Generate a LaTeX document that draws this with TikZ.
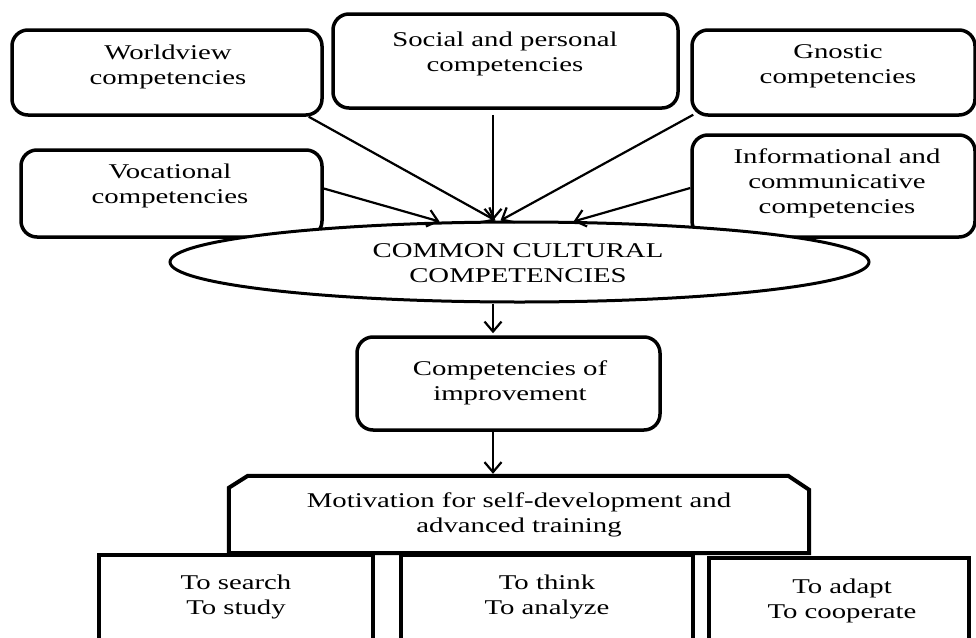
\documentclass[tikz,border=0pt]{standalone}
\usepackage{fontspec}
\setmainfont{Liberation Serif}[FakeStretch=1.37]
\usetikzlibrary{arrows.meta,shapes.geometric}
\begin{document}
\begin{tikzpicture}[x=1pt,y=-1pt,
  font=\fontsize{21}{25}\selectfont,
  card/.style={draw,line width=3.5pt,rounded corners=16pt,inner sep=0pt},
  plain/.style={draw,line width=4pt,inner sep=0pt},
  caption/.style={align=center,inner sep=0pt,anchor=base},
  arr/.style={line width=2.2pt,-{Straight Barb[length=10pt,width=17pt]}}]
\useasboundingbox (0,0) rectangle (976,637);
\clip (0,0) rectangle (976,637);

% upper row of competency boxes
\node[card,minimum width=310pt,minimum height=85pt] (ww)  at (167,72.5) {};
\node[card,minimum width=345pt,minimum height=94pt] (soc) at (505.5,61) {};
\node[card,minimum width=283pt,minimum height=85pt] (gno) at (833.5,72.5) {};
\node[card,minimum width=301pt,minimum height=87pt] (voc) at (171.5,193.5) {};
\node[card,minimum width=283pt,minimum height=102pt] (inf) at (833.5,186) {};

% central ellipse, drawn over the lower corners of the side boxes
\node[ellipse,draw,fill=white,line width=3pt,inner sep=0pt,
      minimum width=699pt,minimum height=80pt] (ell) at (519.5,262) {};

\node[card,minimum width=303pt,minimum height=93pt] (comp) at (508.5,383.5) {};

% motivation box with chamfered upper corners
\node[inner sep=0pt,minimum width=580pt,minimum height=77pt] (mot) at (519,514.5) {};
\draw[line width=4pt,line join=miter] (mot.south west) -- ([yshift=-12pt]mot.north west)
  -- ([xshift=19pt]mot.north west) -- ([xshift=-21pt]mot.north east)
  -- ([yshift=-14pt]mot.north east) -- (mot.south east) -- cycle;

% bottom row of skills
\node[plain,minimum width=274pt,minimum height=105pt] (sk1) at (236,607.5) {};
\node[plain,minimum width=292pt,minimum height=105pt] (sk2) at (547,607.5) {};
\node[plain,minimum width=260pt,minimum height=102pt] (sk3) at (839,609) {};

% texts (anchored at the baseline of their last line)
\node[caption] (tww)   at (168,84)  {Worldview\\competencies};
\node[caption] (tsoc)  at (505,71)  {Social and personal\\competencies};
\node[caption] (tgno)  at (838,83)  {Gnostic\\competencies};
\node[caption] (tvoc)  at (170,203) {Vocational\\competencies};
\node[caption] (tinf)  at (837,213) {Informational and\\communicative\\competencies};
\node[caption] (tell)  at (518,282) {COMMON CULTURAL\\COMPETENCIES};
\node[caption] (tcomp) at (510,400) {Competencies of\\improvement};
\node[caption] (tmot)  at (519,532) {Motivation for self-development and\\advanced training};
\node[caption] (t1)    at (236,614) {To search\\To study};
\node[caption] (t2)    at (547,614) {To think\\To analyze};
\node[caption] (t3)    at (842,618) {To adapt\\To cooperate};

% connectors
\coordinate (tS) at ([xshift=-26.5pt]ell.north);
\draw[arr,shorten <=5pt] (soc.south -| tS) -- (tS);
\draw[arr] ([xshift=-15pt]ww.south east) -- ([xshift=-24pt]ell.north);
\draw[arr] ([xshift=3pt,yshift=2pt]gno.south west) -- ([xshift=-19pt]ell.north);
\draw[arr] ([yshift=5pt]voc.east) -- ([xshift=-80pt,yshift=-1pt]ell.north);
\draw[arr] ([yshift=-2pt]inf.west) -- ([xshift=54pt,yshift=-1pt]ell.north);
\draw[arr,shorten >=2pt] ([xshift=-26.5pt]ell.south) -- ([xshift=-26.5pt]ell.south |- comp.north);
\draw[arr,shorten >=2pt] (comp.south -| tS) -- (mot.north -| tS);
\end{tikzpicture}
\end{document}
